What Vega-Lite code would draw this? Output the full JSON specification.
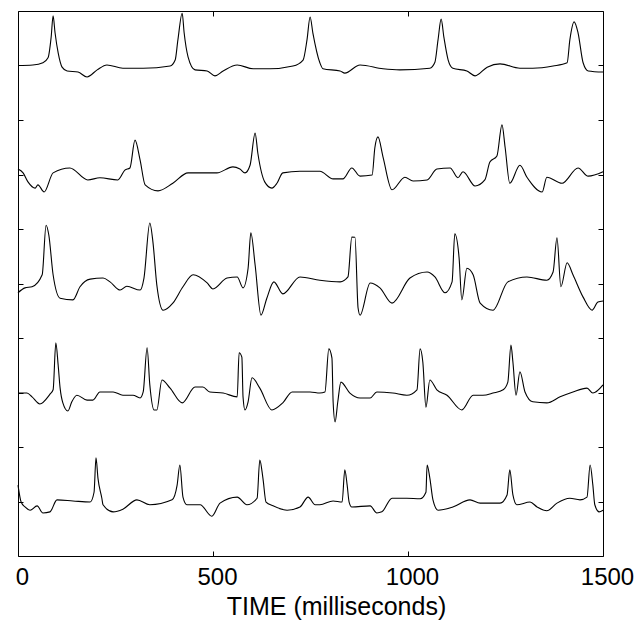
{
"$schema": "https://vega.github.io/schema/vega-lite/v6.json",
"width": 585,
"height": 545,
"autosize": {"type": "none"},
"padding": {"left": 18, "top": 11, "right": 37, "bottom": 73},
"config": {
  "view": {"stroke": "#000", "strokeWidth": 1},
  "axis": {"grid": false, "domain": false, "tickColor": "#000", "tickSize": -5, "tickWidth": 1, "labelFont": "Liberation Sans", "titleFont": "Liberation Sans", "labelColor": "#000", "titleColor": "#000", "titleFontWeight": "normal"}
},
"datasets": {
"ecg": [
{"s":1,"t":0,"v":9.00},{"s":1,"t":38,"v":9.01},{"s":1,"t":64,"v":9.05},{"s":1,"t":77,"v":9.14},{"s":1,"t":85,"v":9.52},{"s":1,"t":90,"v":9.91},{"s":1,"t":95,"v":9.60},{"s":1,"t":103,"v":9.23},{"s":1,"t":113,"v":8.97},{"s":1,"t":126,"v":8.90},{"s":1,"t":154,"v":8.88},{"s":1,"t":177,"v":8.79},{"s":1,"t":203,"v":8.92},{"s":1,"t":228,"v":9.01},{"s":1,"t":269,"v":8.95},{"s":1,"t":321,"v":8.95},{"s":1,"t":390,"v":8.99},{"s":1,"t":403,"v":9.10},{"s":1,"t":410,"v":9.47},{"s":1,"t":421,"v":9.96},{"s":1,"t":426,"v":9.60},{"s":1,"t":436,"v":9.16},{"s":1,"t":454,"v":8.92},{"s":1,"t":485,"v":8.90},{"s":1,"t":505,"v":8.81},{"s":1,"t":526,"v":8.90},{"s":1,"t":562,"v":9.01},{"s":1,"t":603,"v":8.94},{"s":1,"t":646,"v":8.94},{"s":1,"t":705,"v":8.99},{"s":1,"t":731,"v":9.10},{"s":1,"t":741,"v":9.47},{"s":1,"t":749,"v":9.89},{"s":1,"t":756,"v":9.60},{"s":1,"t":774,"v":9.05},{"s":1,"t":782,"v":8.94},{"s":1,"t":826,"v":8.90},{"s":1,"t":838,"v":8.86},{"s":1,"t":877,"v":9.01},{"s":1,"t":936,"v":8.94},{"s":1,"t":979,"v":8.92},{"s":1,"t":1056,"v":8.95},{"s":1,"t":1069,"v":9.06},{"s":1,"t":1077,"v":9.47},{"s":1,"t":1085,"v":9.85},{"s":1,"t":1092,"v":9.52},{"s":1,"t":1103,"v":9.10},{"s":1,"t":1115,"v":8.95},{"s":1,"t":1151,"v":8.90},{"s":1,"t":1172,"v":8.81},{"s":1,"t":1203,"v":8.97},{"s":1,"t":1236,"v":9.03},{"s":1,"t":1287,"v":8.95},{"s":1,"t":1320,"v":8.95},{"s":1,"t":1372,"v":8.99},{"s":1,"t":1408,"v":9.05},{"s":1,"t":1415,"v":9.47},{"s":1,"t":1426,"v":9.80},{"s":1,"t":1436,"v":9.60},{"s":1,"t":1449,"v":9.05},{"s":1,"t":1462,"v":8.90},{"s":1,"t":1500,"v":8.88},
{"s":2,"t":0,"v":7.10},{"s":2,"t":13,"v":7.03},{"s":2,"t":26,"v":6.86},{"s":2,"t":44,"v":6.75},{"s":2,"t":51,"v":6.81},{"s":2,"t":67,"v":6.68},{"s":2,"t":90,"v":7.03},{"s":2,"t":133,"v":7.12},{"s":2,"t":179,"v":6.90},{"s":2,"t":210,"v":6.94},{"s":2,"t":256,"v":6.90},{"s":2,"t":274,"v":7.08},{"s":2,"t":287,"v":7.12},{"s":2,"t":300,"v":7.63},{"s":2,"t":313,"v":7.27},{"s":2,"t":326,"v":6.81},{"s":2,"t":359,"v":6.70},{"s":2,"t":397,"v":6.84},{"s":2,"t":436,"v":7.03},{"s":2,"t":510,"v":7.03},{"s":2,"t":551,"v":7.14},{"s":2,"t":569,"v":7.10},{"s":2,"t":582,"v":7.03},{"s":2,"t":595,"v":7.17},{"s":2,"t":608,"v":7.76},{"s":2,"t":615,"v":7.39},{"s":2,"t":633,"v":6.86},{"s":2,"t":651,"v":6.75},{"s":2,"t":664,"v":6.84},{"s":2,"t":679,"v":7.03},{"s":2,"t":723,"v":7.06},{"s":2,"t":774,"v":7.06},{"s":2,"t":808,"v":6.92},{"s":2,"t":833,"v":6.92},{"s":2,"t":856,"v":7.12},{"s":2,"t":877,"v":6.97},{"s":2,"t":908,"v":6.99},{"s":2,"t":915,"v":7.49},{"s":2,"t":923,"v":7.69},{"s":2,"t":936,"v":7.32},{"s":2,"t":959,"v":6.72},{"s":2,"t":992,"v":6.95},{"s":2,"t":1013,"v":6.88},{"s":2,"t":1049,"v":6.90},{"s":2,"t":1074,"v":7.10},{"s":2,"t":1108,"v":7.12},{"s":2,"t":1128,"v":6.94},{"s":2,"t":1141,"v":7.05},{"s":2,"t":1172,"v":6.79},{"s":2,"t":1197,"v":6.90},{"s":2,"t":1210,"v":7.23},{"s":2,"t":1228,"v":7.34},{"s":2,"t":1241,"v":7.91},{"s":2,"t":1249,"v":7.50},{"s":2,"t":1261,"v":6.84},{"s":2,"t":1287,"v":7.17},{"s":2,"t":1305,"v":6.95},{"s":2,"t":1344,"v":6.68},{"s":2,"t":1356,"v":6.95},{"s":2,"t":1395,"v":6.84},{"s":2,"t":1436,"v":7.12},{"s":2,"t":1462,"v":6.97},{"s":2,"t":1500,"v":7.05},
{"s":3,"t":0,"v":4.83},{"s":3,"t":18,"v":4.92},{"s":3,"t":36,"v":4.94},{"s":3,"t":62,"v":5.16},{"s":3,"t":72,"v":6.07},{"s":3,"t":79,"v":5.89},{"s":3,"t":90,"v":5.16},{"s":3,"t":108,"v":4.73},{"s":3,"t":141,"v":4.70},{"s":3,"t":159,"v":4.94},{"s":3,"t":185,"v":5.08},{"s":3,"t":218,"v":5.10},{"s":3,"t":236,"v":5.03},{"s":3,"t":262,"v":4.88},{"s":3,"t":279,"v":4.95},{"s":3,"t":313,"v":4.88},{"s":3,"t":323,"v":5.10},{"s":3,"t":338,"v":6.11},{"s":3,"t":346,"v":5.76},{"s":3,"t":356,"v":4.97},{"s":3,"t":372,"v":4.51},{"s":3,"t":397,"v":4.64},{"s":3,"t":423,"v":4.94},{"s":3,"t":449,"v":5.16},{"s":3,"t":485,"v":5.01},{"s":3,"t":500,"v":4.90},{"s":3,"t":536,"v":5.10},{"s":3,"t":562,"v":5.12},{"s":3,"t":577,"v":4.92},{"s":3,"t":590,"v":5.28},{"s":3,"t":597,"v":5.93},{"s":3,"t":608,"v":5.34},{"s":3,"t":623,"v":4.42},{"s":3,"t":638,"v":4.73},{"s":3,"t":656,"v":5.03},{"s":3,"t":679,"v":4.81},{"s":3,"t":723,"v":5.12},{"s":3,"t":774,"v":5.06},{"s":3,"t":826,"v":5.03},{"s":3,"t":846,"v":5.12},{"s":3,"t":856,"v":5.85},{"s":3,"t":864,"v":5.85},{"s":3,"t":872,"v":4.55},{"s":3,"t":877,"v":4.42},{"s":3,"t":903,"v":5.01},{"s":3,"t":928,"v":4.92},{"s":3,"t":959,"v":4.64},{"s":3,"t":1005,"v":5.10},{"s":3,"t":1049,"v":5.21},{"s":3,"t":1069,"v":5.12},{"s":3,"t":1095,"v":4.83},{"s":3,"t":1113,"v":5.03},{"s":3,"t":1120,"v":5.91},{"s":3,"t":1131,"v":5.47},{"s":3,"t":1138,"v":4.70},{"s":3,"t":1151,"v":5.28},{"s":3,"t":1167,"v":5.16},{"s":3,"t":1185,"v":4.64},{"s":3,"t":1218,"v":4.51},{"s":3,"t":1256,"v":5.03},{"s":3,"t":1305,"v":5.12},{"s":3,"t":1356,"v":5.06},{"s":3,"t":1372,"v":5.21},{"s":3,"t":1382,"v":5.84},{"s":3,"t":1392,"v":4.94},{"s":3,"t":1408,"v":5.38},{"s":3,"t":1423,"v":5.16},{"s":3,"t":1449,"v":4.75},{"s":3,"t":1472,"v":4.51},{"s":3,"t":1487,"v":4.66},{"s":3,"t":1500,"v":4.68},
{"s":4,"t":0,"v":2.99},{"s":4,"t":23,"v":2.99},{"s":4,"t":36,"v":2.92},{"s":4,"t":56,"v":2.79},{"s":4,"t":82,"v":2.97},{"s":4,"t":90,"v":3.05},{"s":4,"t":97,"v":3.91},{"s":4,"t":103,"v":3.50},{"s":4,"t":108,"v":3.08},{"s":4,"t":115,"v":2.81},{"s":4,"t":128,"v":2.66},{"s":4,"t":138,"v":2.83},{"s":4,"t":151,"v":2.95},{"s":4,"t":177,"v":2.86},{"s":4,"t":192,"v":2.86},{"s":4,"t":210,"v":3.01},{"s":4,"t":244,"v":3.01},{"s":4,"t":269,"v":2.95},{"s":4,"t":295,"v":2.95},{"s":4,"t":313,"v":2.90},{"s":4,"t":321,"v":3.01},{"s":4,"t":331,"v":3.82},{"s":4,"t":338,"v":3.14},{"s":4,"t":349,"v":2.68},{"s":4,"t":356,"v":2.68},{"s":4,"t":369,"v":3.23},{"s":4,"t":390,"v":3.08},{"s":4,"t":421,"v":2.81},{"s":4,"t":454,"v":3.10},{"s":4,"t":474,"v":3.10},{"s":4,"t":492,"v":3.01},{"s":4,"t":526,"v":2.99},{"s":4,"t":562,"v":2.92},{"s":4,"t":567,"v":3.73},{"s":4,"t":574,"v":3.65},{"s":4,"t":577,"v":2.92},{"s":4,"t":582,"v":2.68},{"s":4,"t":590,"v":2.83},{"s":4,"t":600,"v":3.27},{"s":4,"t":620,"v":3.08},{"s":4,"t":651,"v":2.68},{"s":4,"t":679,"v":2.81},{"s":4,"t":703,"v":3.01},{"s":4,"t":749,"v":3.01},{"s":4,"t":774,"v":2.99},{"s":4,"t":787,"v":3.01},{"s":4,"t":797,"v":3.80},{"s":4,"t":805,"v":3.63},{"s":4,"t":808,"v":2.83},{"s":4,"t":813,"v":2.46},{"s":4,"t":820,"v":2.83},{"s":4,"t":828,"v":3.19},{"s":4,"t":851,"v":2.99},{"s":4,"t":877,"v":2.90},{"s":4,"t":903,"v":2.90},{"s":4,"t":920,"v":3.01},{"s":4,"t":961,"v":2.99},{"s":4,"t":997,"v":2.95},{"s":4,"t":1023,"v":3.05},{"s":4,"t":1031,"v":3.80},{"s":4,"t":1038,"v":3.56},{"s":4,"t":1046,"v":2.73},{"s":4,"t":1056,"v":3.23},{"s":4,"t":1074,"v":3.05},{"s":4,"t":1100,"v":2.95},{"s":4,"t":1138,"v":2.68},{"s":4,"t":1167,"v":2.95},{"s":4,"t":1192,"v":2.95},{"s":4,"t":1218,"v":2.99},{"s":4,"t":1244,"v":3.05},{"s":4,"t":1256,"v":3.19},{"s":4,"t":1264,"v":3.87},{"s":4,"t":1269,"v":3.56},{"s":4,"t":1277,"v":2.95},{"s":4,"t":1287,"v":3.38},{"s":4,"t":1300,"v":3.01},{"s":4,"t":1320,"v":2.83},{"s":4,"t":1356,"v":2.81},{"s":4,"t":1390,"v":2.92},{"s":4,"t":1423,"v":3.01},{"s":4,"t":1459,"v":3.08},{"s":4,"t":1474,"v":2.99},{"s":4,"t":1500,"v":3.14},
{"s":5,"t":0,"v":1.30},{"s":5,"t":8,"v":0.99},{"s":5,"t":18,"v":0.90},{"s":5,"t":31,"v":0.84},{"s":5,"t":49,"v":0.92},{"s":5,"t":64,"v":0.79},{"s":5,"t":82,"v":0.81},{"s":5,"t":100,"v":1.03},{"s":5,"t":141,"v":1.01},{"s":5,"t":185,"v":0.99},{"s":5,"t":195,"v":1.17},{"s":5,"t":200,"v":1.80},{"s":5,"t":205,"v":1.43},{"s":5,"t":215,"v":1.06},{"s":5,"t":218,"v":0.94},{"s":5,"t":244,"v":0.81},{"s":5,"t":269,"v":0.86},{"s":5,"t":305,"v":1.03},{"s":5,"t":338,"v":0.94},{"s":5,"t":395,"v":1.03},{"s":5,"t":408,"v":1.30},{"s":5,"t":415,"v":1.67},{"s":5,"t":423,"v":1.08},{"s":5,"t":433,"v":0.94},{"s":5,"t":467,"v":0.94},{"s":5,"t":497,"v":0.73},{"s":5,"t":518,"v":0.97},{"s":5,"t":562,"v":1.08},{"s":5,"t":587,"v":0.94},{"s":5,"t":613,"v":1.06},{"s":5,"t":620,"v":1.76},{"s":5,"t":628,"v":1.43},{"s":5,"t":636,"v":0.99},{"s":5,"t":654,"v":0.92},{"s":5,"t":690,"v":0.84},{"s":5,"t":723,"v":0.90},{"s":5,"t":744,"v":1.08},{"s":5,"t":762,"v":0.94},{"s":5,"t":774,"v":0.94},{"s":5,"t":808,"v":1.01},{"s":5,"t":831,"v":0.99},{"s":5,"t":838,"v":1.58},{"s":5,"t":844,"v":1.30},{"s":5,"t":849,"v":0.99},{"s":5,"t":856,"v":0.90},{"s":5,"t":903,"v":0.92},{"s":5,"t":920,"v":0.79},{"s":5,"t":933,"v":0.81},{"s":5,"t":959,"v":1.06},{"s":5,"t":997,"v":1.06},{"s":5,"t":1031,"v":1.05},{"s":5,"t":1046,"v":1.17},{"s":5,"t":1049,"v":1.67},{"s":5,"t":1056,"v":1.43},{"s":5,"t":1064,"v":1.03},{"s":5,"t":1077,"v":0.84},{"s":5,"t":1115,"v":0.90},{"s":5,"t":1159,"v":1.03},{"s":5,"t":1185,"v":0.97},{"s":5,"t":1236,"v":0.97},{"s":5,"t":1254,"v":1.12},{"s":5,"t":1261,"v":1.58},{"s":5,"t":1269,"v":1.12},{"s":5,"t":1279,"v":0.94},{"s":5,"t":1313,"v":0.99},{"s":5,"t":1331,"v":0.90},{"s":5,"t":1356,"v":0.83},{"s":5,"t":1382,"v":0.97},{"s":5,"t":1415,"v":1.06},{"s":5,"t":1441,"v":1.03},{"s":5,"t":1459,"v":1.08},{"s":5,"t":1467,"v":1.67},{"s":5,"t":1474,"v":1.30},{"s":5,"t":1479,"v":0.94},{"s":5,"t":1490,"v":0.81},{"s":5,"t":1500,"v":0.84}
]
},
"data": {"name": "ecg"},
"layer": [
  {
    "mark": {"type": "line", "color": "#000", "strokeWidth": 1.1, "interpolate": "monotone"},
    "encoding": {
      "x": {"field": "t", "type": "quantitative", "scale": {"domain": [0, 1500], "nice": false, "zero": false},
            "axis": {"orient": "bottom", "values": [0, 500, 1000, 1500], "format": "d", "labelFontSize": 24, "labelBaseline": "alphabetic", "labelPadding": 33, "labelOffset": 4, "labelFlush": false, "labelOverlap": false, "title": "TIME (milliseconds)", "titleFontSize": 25, "titleBaseline": "alphabetic", "titleX": 318, "titleY": 58, "titleAlign": "center", "titleAnchor": null}},
      "y": {"field": "v", "type": "quantitative", "scale": {"domain": [0, 10], "nice": false, "zero": false},
            "axis": {"orient": "left", "values": [1, 2, 3, 4, 5, 6, 7, 8, 9], "labels": false, "title": null}},
      "detail": {"field": "s", "type": "nominal"}
    }
  },
  {
    "mark": {"type": "line", "opacity": 0},
    "encoding": {
      "x": {"field": "t", "type": "quantitative", "axis": {"orient": "top", "values": [0, 500, 1000, 1500], "labels": false, "title": null}},
      "y": {"field": "v", "type": "quantitative", "axis": {"orient": "right", "values": [1, 2, 3, 4, 5, 6, 7, 8, 9], "labels": false, "title": null}},
      "detail": {"field": "s", "type": "nominal"}
    }
  }
],
"resolve": {"axis": {"x": "independent", "y": "independent"}}
}
